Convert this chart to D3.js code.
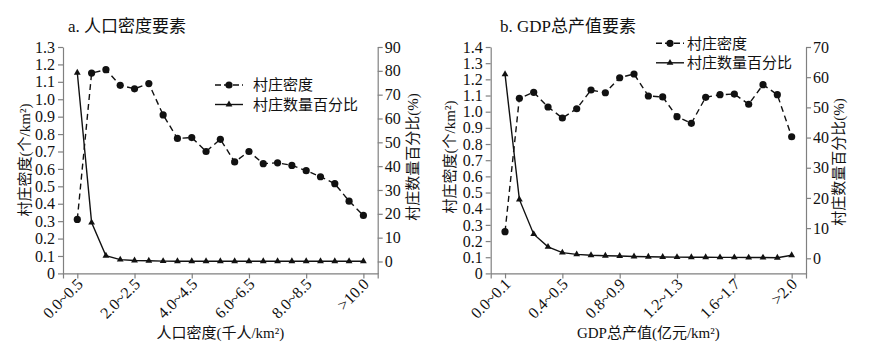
<!DOCTYPE html>
<html><head><meta charset="utf-8">
<script src="https://cdn.jsdelivr.net/npm/d3@7"></script>
<style>
html,body{margin:0;padding:0;background:#fff;}
svg text{font-family:"Liberation Serif","Noto Sans CJK SC",serif;fill:#111;}
</style></head>
<body><svg id="chart" width="883" height="349"></svg>
<script>
// ---- data ----
const catsA = ["0.0~0.5","0.5~1.0","1.0~1.5","1.5~2.0","2.0~2.5","2.5~3.0","3.0~3.5","3.5~4.0","4.0~4.5","4.5~5.0","5.0~5.5","5.5~6.0","6.0~6.5","6.5~7.0","7.0~7.5","7.5~8.0","8.0~8.5","8.5~9.0","9.0~9.5","9.5~10.0",">10.0"];
const densityA = [0.31,1.15,1.17,1.08,1.06,1.09,0.91,0.775,0.78,0.70,0.77,0.64,0.70,0.63,0.635,0.62,0.59,0.555,0.515,0.415,0.333];
const percentA = [79.2,16.3,2.4,0.8,0.4,0.3,0.15,0.1,0.1,0.1,0.1,0.1,0.1,0.1,0.1,0.1,0.1,0.1,0.1,0.1,0.1];
const catsB = ["0.0~0.1","0.1~0.2","0.2~0.3","0.3~0.4","0.4~0.5","0.5~0.6","0.6~0.7","0.7~0.8","0.8~0.9","0.9~1.0","1.0~1.1","1.1~1.2","1.2~1.3","1.3~1.4","1.4~1.5","1.5~1.6","1.6~1.7","1.7~1.8","1.8~1.9","1.9~2.0",">2.0"];
const densityB = [0.258,1.083,1.12,1.029,0.961,1.018,1.134,1.117,1.21,1.233,1.097,1.091,0.969,0.928,1.089,1.105,1.109,1.046,1.167,1.105,0.845];
const percentB = [61.0,19.5,8.0,3.8,1.9,1.3,1.0,0.85,0.75,0.6,0.5,0.45,0.4,0.35,0.35,0.3,0.3,0.25,0.25,0.2,1.0];
const titles = ["a. 人口密度要素","b. GDP总产值要素"];
const xTitles = ["人口密度(千人/km²)","GDP总产值(亿元/km²)"];
const yLeftTitle = "村庄密度(个/km²)";
const yRightTitle = "村庄数量百分比(%)";
const legendLabels = ["村庄密度","村庄数量百分比"];

const svg = d3.select("#chart");
const axisColor = "#808080";

function panel(o){
  const g = svg.append("g");
  const x = d3.scalePoint().domain(o.cats).range([o.x0,o.x1]).padding(1);
  const yL = d3.scaleLinear().domain([0,o.lMax]).range([o.yB,o.yT]);
  const yR = d3.scaleLinear().domain([-5,o.rMax]).range([o.yB,o.yT]);
  const fmt = d => d===0 ? "0" : d3.format(".1f")(d);
  const lTicks = d3.range(0, o.lMax+0.001, 0.1).map(v=>+v.toFixed(1));
  const rTicks = d3.range(0, o.rMax+0.1, 10);

  const ax = g.append("g").attr("transform",`translate(0,${o.yB})`)
    .call(d3.axisBottom(x).tickValues(o.cats.filter((d,i)=>i%4===0)).tickSize(5).tickSizeOuter(5));
  ax.selectAll("text").attr("transform","rotate(-45)").attr("text-anchor","end")
    .attr("x",-4).attr("y",7).attr("dy","0.35em");
  const al = g.append("g").attr("transform",`translate(${o.x0},0)`)
    .call(d3.axisLeft(yL).tickValues(lTicks).tickFormat(fmt).tickSize(5).tickSizeOuter(0).tickPadding(3));
  const ar = g.append("g").attr("transform",`translate(${o.x1},0)`)
    .call(d3.axisRight(yR).tickValues(rTicks).tickFormat(d3.format("d")).tickSize(5).tickSizeOuter(0).tickPadding(2));
  [ax,al,ar].forEach(a=>{
    a.selectAll("path,line").attr("stroke",axisColor).attr("stroke-width",1.2);
    a.selectAll("text").style("font-size","16px").attr("fill","#111")
      .style("font-family",'"Liberation Serif",serif');
  });

  // density line (dashed, circles)
  g.append("path").datum(o.dens)
    .attr("d", d3.line().x((d,i)=>x(o.cats[i])).y(d=>yL(d)))
    .attr("fill","none").attr("stroke","#111").attr("stroke-width",1.4).attr("stroke-dasharray","6,4");
  g.selectAll(".dot").data(o.dens).join("circle")
    .attr("cx",(d,i)=>x(o.cats[i])).attr("cy",d=>yL(d)).attr("r",3.6).attr("fill","#111");
  // percent line (solid, triangles)
  g.append("path").datum(o.pct)
    .attr("d", d3.line().x((d,i)=>x(o.cats[i])).y(d=>yR(d)))
    .attr("fill","none").attr("stroke","#111").attr("stroke-width",1.4);
  const tri = d3.symbol().type(d3.symbolTriangle).size(20);
  g.selectAll(".tri").data(o.pct).join("path")
    .attr("d",tri).attr("transform",(d,i)=>`translate(${x(o.cats[i])},${yR(d)})`).attr("fill","#111");

  // titles
  g.append("text").attr("x",o.titleX).attr("y",32).text(o.title).style("font-size","17px");
  g.append("text").attr("x",(o.x0+o.x1)/2).attr("y",338).attr("text-anchor","middle")
    .text(o.xTitle).style("font-size","15px");
  g.append("text").attr("transform",`translate(${o.lTitleX},${o.lTitleY}) rotate(-90)`)
    .attr("text-anchor","middle").attr("dy","0.35em").text(yLeftTitle).style("font-size","15px");
  g.append("text").attr("transform",`translate(${o.rTitleX},${o.rTitleY}) rotate(-90)`)
    .attr("text-anchor","middle").attr("dy","0.35em").text(yRightTitle).style("font-size","15px");

  // legend
  const lg = g.append("g");
  [0,1].forEach(k=>{
    const yy = o.legY + k*19.5;
    lg.append("line").attr("x1",o.legX).attr("x2",o.legX+28).attr("y1",yy).attr("y2",yy)
      .attr("stroke","#111").attr("stroke-width",1.4).attr("stroke-dasharray",k===0?"6,3":null);
    if(k===0) lg.append("circle").attr("cx",o.legX+14).attr("cy",yy).attr("r",3.6).attr("fill","#111");
    else lg.append("path").attr("d",tri).attr("transform",`translate(${o.legX+14},${yy})`).attr("fill","#111");
    lg.append("text").attr("x",o.legX+o.legGap).attr("y",yy).attr("dy","0.35em")
      .text(legendLabels[k]).style("font-size","15px");
  });
}

panel({cats:catsA,dens:densityA,pct:percentA,x0:63,x1:377.7,yT:47,yB:273.4,lMax:1.3,rMax:90,
  title:titles[0],titleX:68,xTitle:xTitles[0],lTitleX:25,lTitleY:160,rTitleX:413,rTitleY:157,
  legX:215,legY:85,legGap:38});
panel({cats:catsB,dens:densityB,pct:percentB,x0:490.7,x1:806,yT:47,yB:273.4,lMax:1.4,rMax:70,
  title:titles[1],titleX:500,xTitle:xTitles[1],lTitleX:450,lTitleY:157,rTitleX:839,rTitleY:162,
  legX:656,legY:43.3,legGap:31});
</script></body></html>
